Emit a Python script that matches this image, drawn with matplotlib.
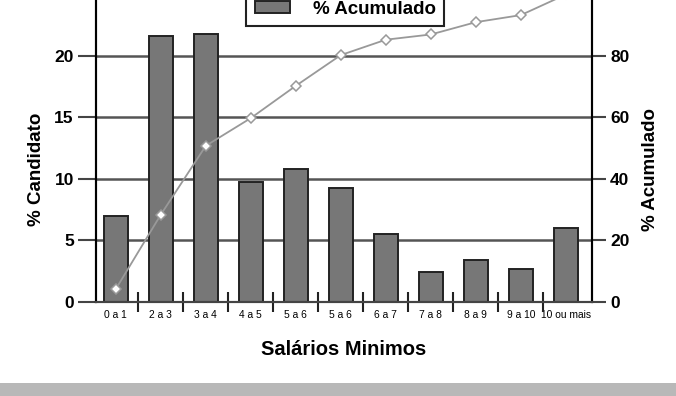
import numpy as np
import matplotlib.pyplot as plt
from matplotlib.patches import Rectangle

plt.rcParams['font.family'] = ['Liberation Sans', 'DejaVu Sans']
plt.rcParams['font.weight'] = 'bold'

faixas = ["0 a 1", "2 a 3", "3 a 4", "4 a 5", "5 a 6", "5 a 6", "6 a 7",
          "7 a 8", "8 a 9", "9 a 10", "10 ou mais"]
candidato = [7.0, 21.6, 21.8, 9.75, 10.8, 9.3, 5.5, 2.45, 3.45, 2.65, 6.05]
acumulado = [4.2, 28.4, 50.8, 59.8, 70.3, 80.3, 85.3, 87.0, 91.0, 93.3, 100.0]

fig = plt.figure(figsize=(6.76, 3.96), dpi=100)
ax = fig.add_axes([0.142, 0.2374, 0.7337, 0.7765])
ax2 = ax.twinx()

x = np.arange(len(faixas))

ax.set_axisbelow(True)
ax.yaxis.grid(True, color='#555555', linewidth=1.8)
bars = ax.bar(x, candidato, width=0.54, color='#777777', edgecolor='#222222',
              linewidth=1.4, zorder=2)
ax.set_ylim(0, 25)
ax.set_xlim(-0.44, 10.58)
ax.set_yticks([0, 5, 10, 15, 20, 25])
ax.tick_params(axis='y', length=13, width=1.5, color='#444444', labelsize=12.5, pad=3)

# category labels in the middle, tick marks between the bars
ax.set_xticks(x)
ax.set_xticklabels(faixas, fontsize=7.4, fontweight='normal')
ax.tick_params(axis='x', which='major', length=0, pad=6)
ax.set_xticks(x[:-1] + 0.5, minor=True)
ax.tick_params(axis='x', which='minor', length=14, width=1.5, color='#222222',
               direction='inout')

line, = ax2.plot(x, acumulado, color='#999999', linewidth=1.3, marker='D',
                 markersize=5, markerfacecolor='white', markeredgecolor='#999999',
                 markeredgewidth=1.1, zorder=3)
ax2.set_ylim(0, 100)
ax2.set_yticks([0, 20, 40, 60, 80, 100])
ax2.tick_params(axis='y', length=10, width=1.5, color='#444444', labelsize=12.5, pad=3)

for a in (ax, ax2):
    a.spines['top'].set_visible(False)
    a.spines['left'].set_linewidth(1.5)
    a.spines['right'].set_linewidth(1.5)
    a.spines['bottom'].set_linewidth(1.5)
    a.spines['bottom'].set_color('#444444')

ax.set_xlabel("Salários Minimos", fontsize=14.5, fontweight='bold')
ax.xaxis.set_label_coords(0.5, -0.122)
ax.set_ylabel("% Candidato", fontsize=13.5, fontweight='bold')
ax.yaxis.set_label_coords(-0.102, 0.43)
ax2.set_ylabel("% Acumulado", fontsize=13.5, fontweight='bold')
ax2.yaxis.set_label_coords(1.1, 0.43)

leg = fig.legend([line, bars], ["% Candidato", "% Acumulado"], loc='lower center',
                 bbox_to_anchor=(0.511, 0.934), fontsize=13.5, fancybox=False,
                 edgecolor='#222222', framealpha=1, handlelength=1.9,
                 handleheight=0.55, handletextpad=1.2, borderpad=0.45,
                 borderaxespad=0)
leg.get_frame().set_linewidth(1.5)

# grey strip along the bottom edge
fig.patches.append(Rectangle((0, 0), 1, 13 / 396, transform=fig.transFigure,
                             facecolor='#b8b8b8', edgecolor='none'))

fig.savefig("out.png", dpi=100)
